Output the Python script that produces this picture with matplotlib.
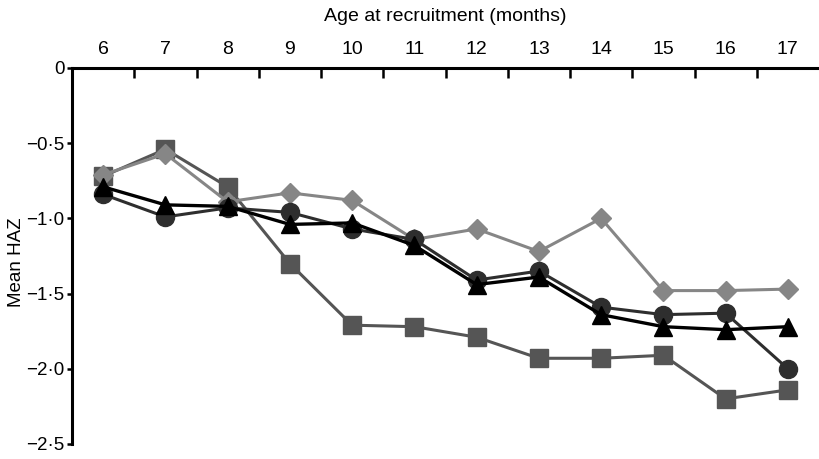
import matplotlib
matplotlib.use("Agg")
import matplotlib.pyplot as plt
from matplotlib.ticker import FixedLocator

ages = [6, 7, 8, 9, 10, 11, 12, 13, 14, 15, 16, 17]
diamond = [-0.71, -0.57, -0.89, -0.83, -0.88, -1.14, -1.07, -1.22, -1.00, -1.48, -1.48, -1.47]
square = [-0.72, -0.54, -0.79, -1.30, -1.71, -1.72, -1.79, -1.93, -1.93, -1.91, -2.20, -2.14]
circle = [-0.84, -0.99, -0.93, -0.96, -1.07, -1.14, -1.41, -1.35, -1.59, -1.64, -1.63, -2.00]
triangle = [-0.79, -0.91, -0.92, -1.04, -1.03, -1.18, -1.44, -1.39, -1.64, -1.72, -1.74, -1.72]
yticks = [0, -0.5, -1.0, -1.5, -2.0, -2.5]
ytick_labels = ["0", "\u22120\u00b75", "\u22121\u00b70", "\u22121\u00b75", "\u22122\u00b70", "\u22122\u00b75"]

fam = ["Liberation Sans", "DejaVu Sans"]

fig = plt.figure(figsize=(8.19, 4.59), dpi=100)
ax = fig.add_axes([72/819, 1-444/459, 1-72/819, (444-68)/459])

ax.plot(ages, square, color="#555555", lw=2.2, marker="s", ms=13, zorder=2)
ax.plot(ages, diamond, color="#868686", lw=2.2, marker="D", ms=10, zorder=3)
ax.plot(ages, circle, color="#2e2e2e", lw=2.2, marker="o", ms=13, zorder=4)
ax.plot(ages, triangle, color="#000000", lw=2.4, marker="^", ms=13, zorder=5)

ax.set_xlim(5.5, 17.5)
ax.set_ylim(-2.5, 0)
for s in ["right", "bottom"]:
    ax.spines[s].set_visible(False)
for s in ["left", "top"]:
    ax.spines[s].set_linewidth(2.2)

ax.xaxis.tick_top()
ax.xaxis.set_label_position("top")
ax.xaxis.set_major_locator(FixedLocator([a + 0.5 for a in ages[:-1]]))
ax.set_xticklabels([])
ax.xaxis.set_minor_locator(FixedLocator(ages))
ax.set_xticklabels([str(a) for a in ages], minor=True, family=fam, fontsize=14)
ax.tick_params(axis="x", which="major", direction="in", length=7, width=1.8)
ax.tick_params(axis="x", which="minor", length=0, pad=7.5)
ax.set_xlabel("Age at recruitment (months)", family=fam, fontsize=14, labelpad=14)

ax.set_yticks(yticks)
ax.set_yticklabels(ytick_labels, family=fam, fontsize=13.5)
ax.tick_params(axis="y", direction="out", length=3.5, width=1.8, pad=2)
ax.set_ylabel("Mean HAZ", family=fam, fontsize=13.5)
ax.yaxis.set_label_coords(-47/747, 0.484)

fig.savefig("out.png", dpi=100)
